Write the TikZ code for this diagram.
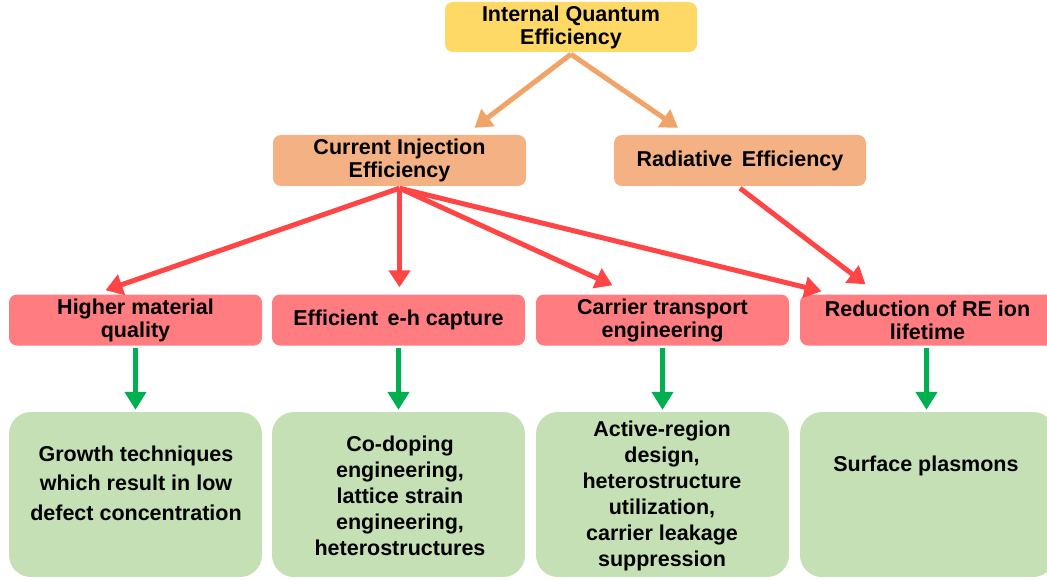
\documentclass[tikz,border=0pt]{standalone}
\usepackage{fontspec}
\setmainfont{Liberation Sans}
\usetikzlibrary{arrows.meta,calc}
\definecolor{cYel}{HTML}{FFD966}
\definecolor{cOr}{HTML}{F4B183}
\definecolor{cRedBox}{HTML}{FF7C80}
\definecolor{cGrn}{HTML}{C5E0B4}
\definecolor{aOr}{HTML}{F0A468}
\definecolor{aRed}{HTML}{FF4545}
\definecolor{aGrn}{HTML}{00B050}
\begin{document}
\begin{tikzpicture}[x=1pt,y=-1pt,
  box/.style={rectangle,rounded corners=8pt,inner sep=0pt,align=center,
    font=\fontsize{21.5}{23}\selectfont\bfseries,minimum height=51pt},
  gbox/.style={rectangle,rounded corners=22pt,inner sep=0pt,fill=cGrn,minimum height=165pt,minimum width=253pt},
  gtext/.style={align=center,inner sep=0pt,font=\fontsize{21.5}{26}\selectfont\bfseries},
  oarr/.style={draw=aOr,line width=5pt,-{Triangle[length=17pt,width=21pt]}},
  rarr/.style={draw=aRed,line width=5pt,-{Triangle[length=17pt,width=21pt]}},
  garr/.style={draw=aGrn,line width=5pt,-{Triangle[length=18pt,width=21pt]}}]
\clip (0,0) rectangle (1047,580);
\useasboundingbox (0,0) rectangle (1047,580);
% top
\node[box,fill=cYel,minimum width=252pt,minimum height=50pt] (iqe) at (571,27) {Internal Quantum\\Efficiency};
\node[box,fill=cOr,minimum width=253pt] (ci) at (399.5,160.5) {Current Injection\\Efficiency};
\node[box,fill=cOr,minimum width=252pt] (rad) at (740,160.5) {Radiative\, Efficiency};
% red row
\node[box,fill=cRedBox,minimum width=253pt] (hm) at (135.5,320) {Higher material\\quality};
\node[box,fill=cRedBox,minimum width=253pt] (eh) at (398.5,320) {Efficient\, e-h capture};
\node[box,fill=cRedBox,minimum width=253pt] (ct) at (662.5,320) {Carrier transport\\engineering};
\node[box,fill=cRedBox,minimum width=255pt] (re) at (927.5,320) {Reduction of RE ion\\lifetime};
% green row
\node[gbox] (g1) at (135.5,494.5) {};
\node[gbox] (g2) at (398.5,494.5) {};
\node[gbox] (g3) at (662.5,494.5) {};
\node[gbox,minimum width=255pt] (g4) at (927.5,494.5) {};
\node[gtext,font=\fontsize{21.5}{29.5}\selectfont\bfseries] (t1) at (136,483) {Growth techniques\\which result in low\\defect concentration};
\node[gtext] (t2) at (400,495.5) {Co-doping\\engineering,\\lattice strain\\engineering,\\heterostructures};
\node[gtext] (t3) at (662,496) {Active-region\\design,\\heterostructure\\utilization,\\carrier leakage\\suppression};
\node[gtext] (t4) at (926,466) {Surface plasmons};
% orange arrows
\draw[oarr] ([yshift=-2pt]iqe.south) -- ([xshift=75pt,yshift=7pt]ci.north);
\draw[oarr] ([yshift=-2pt]iqe.south) -- ([xshift=-62pt,yshift=7pt]rad.north);
% red arrows
\draw[rarr] ([yshift=-2pt]ci.south) -- ([xshift=-30pt,yshift=4pt]hm.north);
\draw[rarr] ([yshift=-2pt]ci.south) -- ([yshift=7pt]ci.south |- eh.north);
\draw[rarr] ([yshift=-2pt]ci.south) -- ([xshift=-50pt,yshift=9pt]ct.north);
\draw[rarr] ([yshift=-2pt]ci.south) -- ([xshift=-106pt,yshift=3pt]re.north);
\draw[rarr] ([yshift=-2pt]rad.south) -- ([xshift=-62pt,yshift=10pt]re.north);
% green arrows
\draw[garr] ([yshift=-2pt]hm.south) -- ([yshift=2pt]g1.north);
\draw[garr] ([yshift=-2pt]eh.south) -- ([yshift=2pt]g2.north);
\draw[garr] ([yshift=-2pt]ct.south) -- ([yshift=2pt]g3.north);
\draw[garr] ([yshift=-2pt,xshift=-1pt]re.south) -- ([yshift=2pt,xshift=-1pt]g4.north);
\end{tikzpicture}
\end{document}
